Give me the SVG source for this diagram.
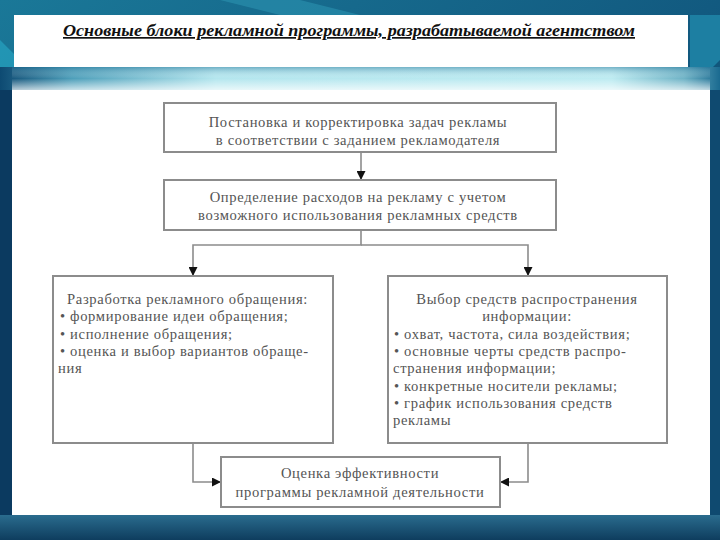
<svg xmlns="http://www.w3.org/2000/svg" width="720" height="540" viewBox="0 0 720 540">
<defs>
<linearGradient id="bg" x1="0" y1="0" x2="1" y2="1">
<stop offset="0" stop-color="#1a7898"/>
<stop offset="0.5" stop-color="#125a80"/>
<stop offset="1" stop-color="#0b3a5c"/>
</linearGradient>
<linearGradient id="band" x1="0" y1="0" x2="1" y2="0">
<stop offset="0" stop-color="#0d4a72"/>
<stop offset="0.1" stop-color="#4e9fba"/>
<stop offset="0.3" stop-color="#b4e6ee"/>
<stop offset="0.85" stop-color="#bdebf1"/>
<stop offset="0.95" stop-color="#6fb3c6"/>
<stop offset="1" stop-color="#1a6a90"/>
</linearGradient>
<linearGradient id="bandv" x1="0" y1="0" x2="0" y2="1">
<stop offset="0" stop-color="#1b6f95" stop-opacity="0.45"/>
<stop offset="0.5" stop-color="#ffffff" stop-opacity="0"/>
<stop offset="1" stop-color="#ffffff" stop-opacity="0.7"/>
</linearGradient>
<linearGradient id="bottom" x1="0" y1="0" x2="0" y2="1">
<stop offset="0" stop-color="#2a6c8e"/>
<stop offset="1" stop-color="#0e3d5e"/>
</linearGradient>
<marker id="arr" viewBox="0 0 10 10" refX="10" refY="5" markerWidth="9" markerHeight="9" markerUnits="userSpaceOnUse" orient="auto">
<path d="M0,0 L10,5 L0,10 z" fill="#111"/>
</marker>
<style>
.box{fill:#ffffff;stroke:#8c8c8c;stroke-width:2}
.t{font-family:"Liberation Serif","Times New Roman",serif;font-size:14.6px;letter-spacing:0.65px;fill:#555555}
.c{text-anchor:middle}
.ln{fill:none;stroke:#8c8c8c;stroke-width:1.6}
.title{font-family:"Liberation Serif","Times New Roman",serif;font-size:17px;font-style:italic;font-weight:bold;fill:#111;text-decoration:underline}
</style>
</defs>
<rect x="0" y="0" width="720" height="540" fill="url(#bg)"/>
<polygon points="220,0 300,0 360,15 280,15" fill="#2b93b0" opacity="0.6"/>
<polygon points="690,15 720,15 720,60 690,90" fill="#1d7fa2"/>
<polygon points="0,40 20,60 12,90 0,90" fill="#26a3c0" opacity="0.7"/>
<rect x="0" y="90" width="12" height="425" fill="#0b3a60"/>
<rect x="710" y="90" width="10" height="425" fill="#0f4a70"/>
<rect x="0" y="515" width="720" height="25" fill="url(#bottom)"/>
<rect x="0" y="67" width="720" height="23" fill="url(#band)"/>
<rect x="12" y="67" width="698" height="23" fill="url(#bandv)"/>
<rect x="14" y="15" width="674" height="52" fill="#ffffff"/>
<rect x="12" y="90" width="698" height="425" fill="#ffffff"/>
<text class="title" x="63" y="36" textLength="572" lengthAdjust="spacingAndGlyphs">Основные блоки рекламной программы, разрабатываемой агентством</text>
<g id="connectors">
<line class="ln" x1="361" y1="152" x2="361" y2="180" marker-end="url(#arr)"/>
<polyline class="ln" points="361,230 361,245 193,245 193,276" marker-end="url(#arr)"/>
<polyline class="ln" points="361,245 528,245 528,276" marker-end="url(#arr)"/>
<polyline class="ln" points="193,443 193,482 221,482" marker-end="url(#arr)"/>
<polyline class="ln" points="528,443 528,482 500,482" marker-end="url(#arr)"/>
</g>
<g id="n1">
<rect class="box" x="164" y="103" width="392" height="49"/>
<text class="t c" x="358" y="127">Постановка и корректировка задач рекламы</text>
<text class="t c" x="358" y="145">в соответствии с заданием рекламодателя</text>
</g>
<g id="n2">
<rect class="box" x="164" y="180" width="392" height="50"/>
<text class="t c" x="358" y="202">Определение расходов на рекламу с учетом</text>
<text class="t c" x="358" y="220">возможного использования рекламных средств</text>
</g>
<g id="n3">
<rect class="box" x="53" y="276" width="280" height="167"/>
<text class="t" x="67" y="304">Разработка рекламного обращения:</text>
<text class="t" x="60" y="321.3">• формирование идеи обращения;</text>
<text class="t" x="60" y="338.6">• исполнение обращения;</text>
<text class="t" x="60" y="355.9">• оценка и выбор вариантов обраще-</text>
<text class="t" x="58" y="373.2">ния</text>
</g>
<g id="n4">
<rect class="box" x="388" y="276" width="279" height="167"/>
<text class="t c" x="527" y="304">Выбор средств распространения</text>
<text class="t c" x="527" y="321.3">информации:</text>
<text class="t" x="394" y="338.6">• охват, частота, сила воздействия;</text>
<text class="t" x="394" y="355.9">• основные черты средств распро-</text>
<text class="t" x="393" y="373.2">странения информации;</text>
<text class="t" x="394" y="390.5">• конкретные носители рекламы;</text>
<text class="t" x="394" y="407.8">• график использования средств</text>
<text class="t" x="393" y="425.1">рекламы</text>
</g>
<g id="n5">
<rect class="box" x="221" y="457" width="279" height="50"/>
<text class="t c" x="360" y="478">Оценка эффективности</text>
<text class="t c" x="360" y="497">программы рекламной деятельности</text>
</g>
</svg>
